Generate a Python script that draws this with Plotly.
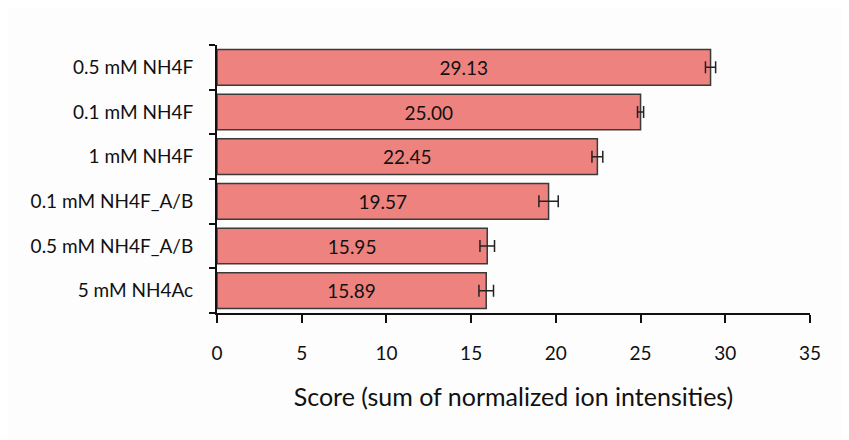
import plotly.graph_objects as go

categories = ["0.5 mM NH4F", "0.1 mM NH4F", "1 mM NH4F", "0.1 mM NH4F_A/B", "0.5 mM NH4F_A/B", "5 mM NH4Ac"]
scores = [29.13, 25.00, 22.45, 19.57, 15.95, 15.89]
errors = [0.30, 0.18, 0.32, 0.57, 0.43, 0.43]
labels = ["29.13", "25.00", "22.45", "19.57", "15.95", "15.89"]
x_ticks = [0, 5, 10, 15, 20, 25, 30, 35]

FONT = "Lato, Open Sans, sans-serif"

fig = go.Figure(
    go.Bar(
        y=categories,
        x=scores,
        orientation="h",
        marker=dict(color="#EE827F", line=dict(color="#3a3a3a", width=1.5)),
        error_x=dict(type="data", array=errors, visible=True, color="#222222", thickness=1.5, width=6),
        text=labels,
        textposition="inside",
        insidetextanchor="middle",
        textfont=dict(family=FONT, size=19, color="#111111"),
        width=0.8,
    )
)

fig.update_layout(
    width=849,
    height=440,
    margin=dict(l=209, r=47, t=37, b=135),
    paper_bgcolor="#fdfdfd",
    plot_bgcolor="#fdfdfd",
    showlegend=False,
    font=dict(family=FONT, size=19, color="#111111"),
)

fig.update_xaxes(
    range=[0, 35],
    tickvals=x_ticks,
    ticks="outside",
    ticklen=8,
    tickwidth=2,
    tickcolor="#111111",
    showline=True,
    linewidth=2,
    linecolor="#111111",
    showgrid=False,
    zeroline=False,
    automargin=False,
    ticklabelstandoff=14,
    tickfont=dict(size=19),
    title=dict(text="Score (sum of normalized ion intensities)", font=dict(size=25), standoff=26),
)

fig.update_yaxes(
    categoryorder="array",
    categoryarray=categories[::-1],
    ticks="outside",
    tickson="boundaries",
    ticklen=6,
    tickwidth=2,
    tickcolor="#111111",
    showline=True,
    linewidth=2,
    linecolor="#111111",
    showgrid=False,
    automargin=False,
    ticklabelstandoff=18,
    tickfont=dict(size=19),
)

fig.write_html("out.html")
